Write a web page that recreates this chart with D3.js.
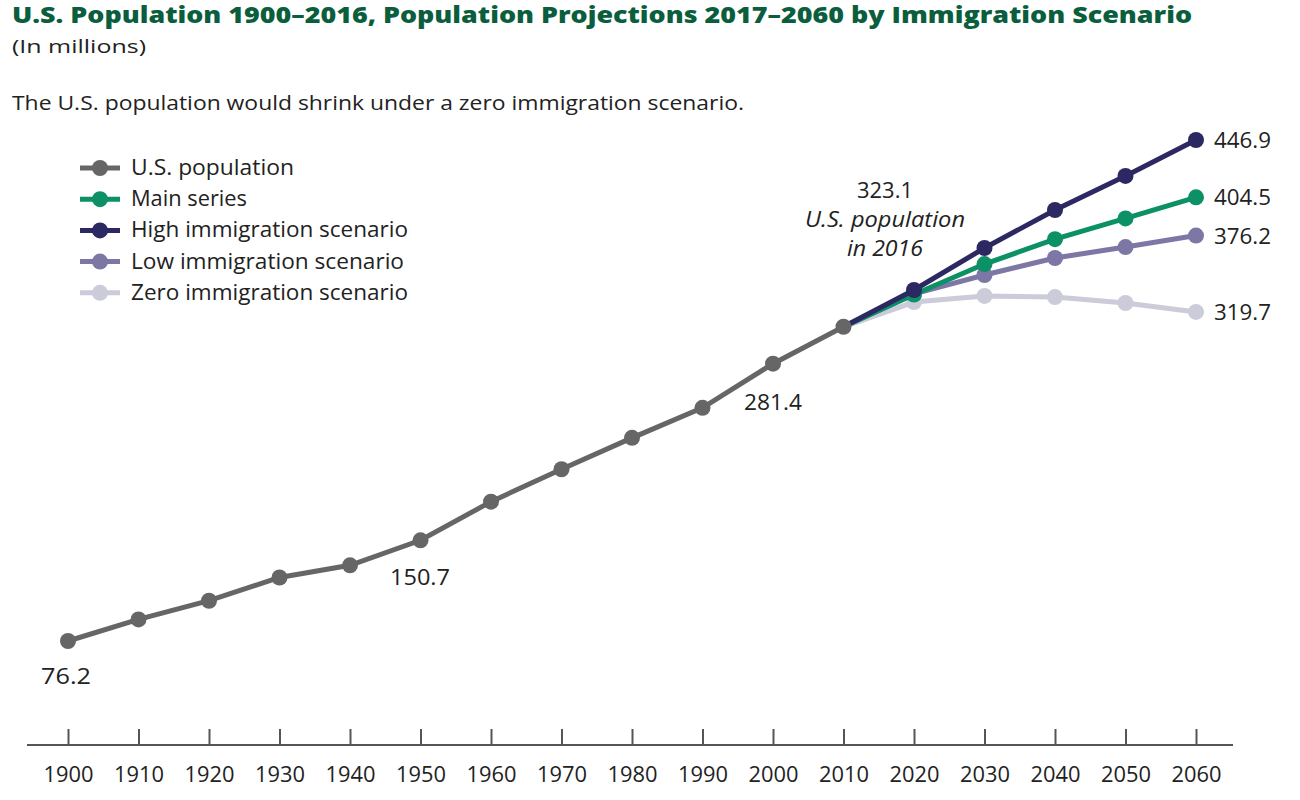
<!DOCTYPE html>
<html><head><meta charset="utf-8">
<script src="https://cdn.jsdelivr.net/npm/d3@7"></script>
<style>body{margin:0;background:#fff}svg{display:block}</style>
</head><body><svg id="c" width="1300" height="800"></svg>
<script>
const years = [1900,1910,1920,1930,1940,1950,1960,1970,1980,1990,2000,2010];
const usPop = [76.2,92.2,106.0,123.2,132.2,150.7,179.3,203.3,226.5,248.7,281.4,308.7];
const projYears = [2010,2020,2030,2040,2050,2060];
const mainSeries = [308.7,332.6,355.1,373.5,388.9,404.5];
const highSeries = [308.7,335.9,367.0,395.1,420.3,446.9];
const lowSeries = [308.7,333.0,347.0,359.6,367.7,376.2];
const zeroSeries = [308.7,327.0,331.5,330.7,326.3,319.7];
const tickYears = [1900,1910,1920,1930,1940,1950,1960,1970,1980,1990,2000,2010,2020,2030,2040,2050,2060];
const legendNames = ["U.S. population","Main series","High immigration scenario","Low immigration scenario","Zero immigration scenario"];
const colors = ["#666666","#0c9066","#2c2862","#7c77a5","#cbcbd9"];

const svg = d3.select("#c");
const font = "'Open Sans', 'Noto Sans', sans-serif";
const x = d3.scaleLinear().domain([1900,2060]).range([68,1196]);
const y = d3.scaleLinear().domain([76.2,446.9]).range([641,140]);

function txt(t, xx, yy, opts={}) {
  const e = svg.append("text").attr("x",xx).attr("y",yy).attr("font-family",font)
    .attr("font-size",opts.size||20).attr("fill",opts.fill||"#222")
    .attr("text-anchor",opts.anchor||"start").text(t);
  if (opts.weight) e.attr("font-weight",opts.weight);
  if (opts.italic) e.attr("font-style","italic");
  if (opts.len) e.attr("textLength",opts.len).attr("lengthAdjust","spacingAndGlyphs");
  return e;
}

txt("U.S. Population 1900–2016, Population Projections 2017–2060 by Immigration Scenario", 12, 22.5,
  {size:22, weight:800, fill:"#0b5e3d", len:1180});
txt("(In millions)", 12, 53, {size:19, len:134});
txt("The U.S. population would shrink under a zero immigration scenario.", 12, 110, {size:20, len:732});

// axis
const axis = d3.axisBottom(x).tickValues(tickYears).tickFormat(d3.format("d")).tickSizeInner(-16).tickSizeOuter(0).tickPadding(21);
const ag = svg.append("g").attr("transform","translate(0,745)").call(axis);
ag.select(".domain").attr("d","M27,0H1233").attr("stroke","#555").attr("stroke-width",2);
ag.selectAll(".tick line").attr("stroke","#555").attr("stroke-width",2);
ag.selectAll(".tick text").attr("font-family",font).attr("font-size",22).attr("fill","#222").attr("dy","0.71em")
  .attr("textLength",50).attr("lengthAdjust","spacingAndGlyphs");

const line = d3.line().x(d=>x(d[0])).y(d=>y(d[1]));
const series = [
  {vals: zeroSeries, c: colors[4]},
  {vals: lowSeries, c: colors[3]},
  {vals: mainSeries, c: colors[1]},
  {vals: highSeries, c: colors[2]}
];
series.forEach(s=>{
  const pts = projYears.map((yr,i)=>[yr,s.vals[i]]);
  svg.append("path").attr("d",line(pts)).attr("fill","none").attr("stroke",s.c).attr("stroke-width",5);
  svg.selectAll(null).data(pts.slice(1)).enter().append("circle")
    .attr("cx",d=>x(d[0])).attr("cy",d=>y(d[1])).attr("r",8).attr("fill",s.c);
});
const usPts = years.map((yr,i)=>[yr,usPop[i]]);
svg.append("path").attr("d",line(usPts)).attr("fill","none").attr("stroke",colors[0]).attr("stroke-width",5);
svg.selectAll(null).data(usPts).enter().append("circle")
  .attr("cx",d=>x(d[0])).attr("cy",d=>y(d[1])).attr("r",8).attr("fill",colors[0]);

// legend
const legLens = [163,116,277,273,277];
legendNames.forEach((n,i)=>{
  const ly = 168 + i*31.2;
  svg.append("line").attr("x1",80).attr("x2",120).attr("y1",ly).attr("y2",ly).attr("stroke",colors[i]).attr("stroke-width",5);
  svg.append("circle").attr("cx",100).attr("cy",ly).attr("r",8).attr("fill",colors[i]);
  txt(n, 131, ly+7, {size:21, len:legLens[i]});
});

// annotations
const f1 = d3.format(".1f");
txt(f1(usPop[0]), x(1900)-27, 684, {size:22, len:50});
txt(f1(usPop[5]), 390, 585, {size:22, len:60});
txt(f1(usPop[10]), 744, 410, {size:22, len:58});
txt("323.1", 885, 198, {size:22, anchor:"middle", len:56});
txt("U.S. population", 885, 227, {size:21, anchor:"middle", italic:true, len:160});
txt("in 2016", 885, 256, {size:21, anchor:"middle", italic:true, len:76});
[[highSeries,"446.9"],[mainSeries,"404.5"],[lowSeries,"376.2"],[zeroSeries,"319.7"]].forEach(([s,t])=>{
  txt(t, 1214, y(s[5])+8, {size:22, len:57});
});
</script></body></html>
